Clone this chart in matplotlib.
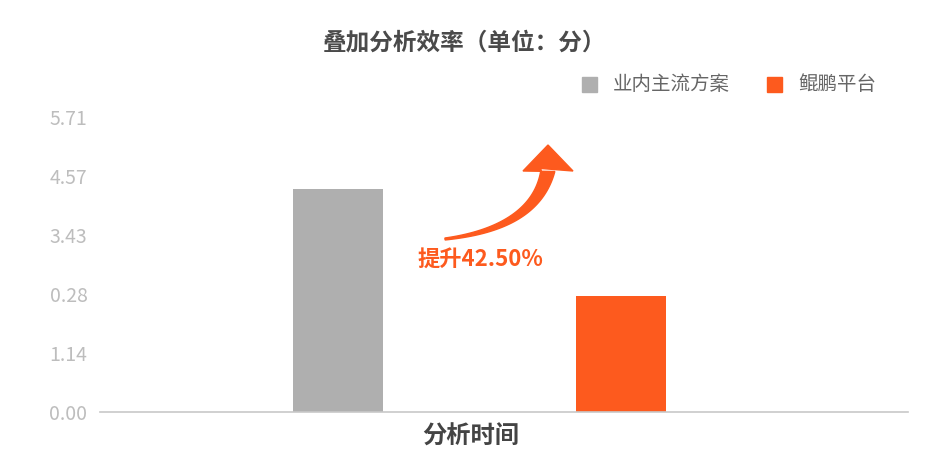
import numpy as np
import matplotlib.pyplot as plt
from matplotlib.patches import Polygon, Rectangle

plt.rcParams['font.family'] = ['Noto Sans CJK SC', 'DejaVu Sans']

categories = ['分析时间']
series_names = ['业内主流方案', '鲲鹏平台']
series_values = [4.31, 2.25]
series_colors = ['#afafaf', '#fd5a1e']
ytick_values = [0.0, 1.142, 2.284, 3.426, 4.568, 5.71]
ytick_labels = ['0.00', '1.14', '0.28', '3.43', '4.57', '5.71']
title = '叠加分析效率（单位：分）'
note = '提升42.50%'

W, H = 925, 463
fig = plt.figure(figsize=(W / 100, H / 100), dpi=100)
ax = fig.add_axes([100 / W, 51 / H, 808 / W, (412 - 116.7) / H])


def fx(x, y):
    # pixel position (top-left origin) -> figure fraction
    return (x / W, 1 - y / H)


offsets = [-0.5, 0.5]
for name, val, col, off in zip(series_names, series_values, series_colors, offsets):
    ax.bar(0 + off, val, width=90 / 283, color=col, label=name, zorder=2)

ax.set_xlim(-379.5 / 283, 428.5 / 283)
ax.set_ylim(0, 5.71)
ax.set_yticks(ytick_values)
ax.set_yticklabels(ytick_labels, color='#bdbdbd', fontsize=14, fontweight='light')
ax.set_xticks([])
ax.tick_params(axis='y', length=0, pad=9)
for s in ['top', 'right', 'left']:
    ax.spines[s].set_visible(False)
ax.spines['bottom'].set_color('#c8c8c8')
ax.spines['bottom'].set_linewidth(1.2)

fig.text(*fx(471, 437), categories[0], ha='center', va='center',
         fontsize=17.5, fontweight='bold', color='#444444')

fig.text(*fx(464.5, 42), title, ha='center', va='center',
         fontsize=17, fontweight='bold', color='#4a4a4a')

# legend drawn by hand to mimic the square markers
leg_x = [582, 767]
for name, col, lx in zip(series_names, series_colors, leg_x):
    fig.patches.append(Rectangle(fx(lx, 92), 15 / W, 15 / H,
                                 transform=fig.transFigure, color=col))
    fig.text(*fx(lx + 31, 84), name, ha='left', va='center',
             fontsize=14, color='#666666')

# tapered curved arrow
p0 = np.array([445.0, 239.0])
c = np.array([536.0, 228.0])
p1 = np.array([548.0, 170.0])
t = np.linspace(0, 1, 60)[:, None]
curve = (1 - t) ** 2 * p0 + 2 * (1 - t) * t * c + t ** 2 * p1
d = np.gradient(curve, axis=0)
nrm = np.column_stack([-d[:, 1], d[:, 0]])
nrm /= np.linalg.norm(nrm, axis=1)[:, None]
half = (1 + 6 * t[:, 0] ** 1.2)[:, None]
left = curve + nrm * half
right = curve - nrm * half
head = np.array([[523, 171], [548, 145], [573, 171]])
pts = np.vstack([left, head, right[::-1]])
fig.patches.append(Polygon([fx(x, y) for x, y in pts], closed=True,
                           transform=fig.transFigure, color=series_colors[1]))

fig.text(*fx(480, 260), note, ha='center', va='center',
         fontsize=16, fontweight='bold', color=series_colors[1])

fig.savefig('out.png', dpi=100)
